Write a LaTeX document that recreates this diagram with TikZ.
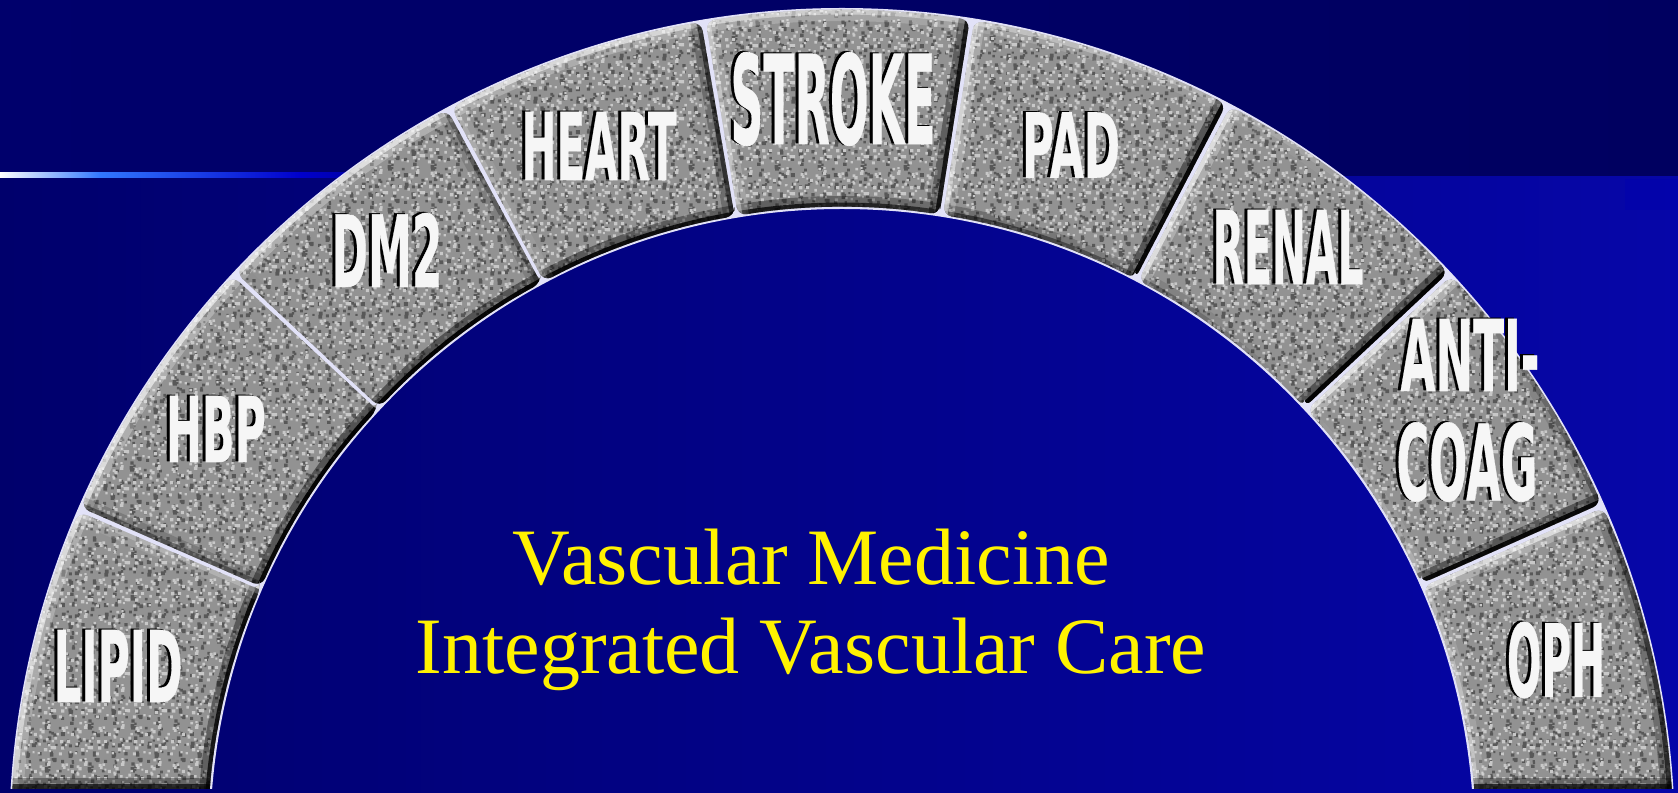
\documentclass[tikz,border=0pt]{standalone}
\usepackage{fontspec}
\usetikzlibrary{patterns}
\setmainfont{Liberation Serif}
\newfontfamily\lblfont[FakeBold=0.6]{DejaVu Sans Bold}
\definecolor{bgL}{RGB}{0,0,108}
\definecolor{bgR}{RGB}{6,6,168}
\definecolor{topL}{RGB}{0,0,108}
\definecolor{topR}{RGB}{0,0,96}
\definecolor{granite}{RGB}{146,146,146}
\definecolor{gdark}{RGB}{88,88,88}
\definecolor{glight}{RGB}{200,200,200}
\definecolor{gapcol}{RGB}{226,226,248}
\definecolor{streakB}{RGB}{50,120,255}
\definecolor{labelwhite}{RGB}{246,246,246}
\pgfmathsetseed{7}
\pgfdeclarepatternformonly{granD}{\pgfpointorigin}{\pgfpoint{4.3mm}{4.3mm}}{\pgfpoint{4.3mm}{4.3mm}}{%
  \foreach \i in {1,...,40}{\pgfmathsetmacro\px{4.0*rnd}\pgfmathsetmacro\py{4.0*rnd}\pgfmathsetmacro\ps{0.2+0.2*rnd}%
    \pgfpathrectangle{\pgfpoint{\px mm}{\py mm}}{\pgfpoint{\ps mm}{\ps mm}}}%
  \pgfusepath{fill}}
\pgfdeclarepatternformonly{granL}{\pgfpointorigin}{\pgfpoint{3.7mm}{3.7mm}}{\pgfpoint{3.7mm}{3.7mm}}{%
  \foreach \i in {1,...,30}{\pgfmathsetmacro\px{3.4*rnd}\pgfmathsetmacro\py{3.4*rnd}\pgfmathsetmacro\ps{0.2+0.15*rnd}%
    \pgfpathrectangle{\pgfpoint{\px mm}{\py mm}}{\pgfpoint{\ps mm}{\ps mm}}}%
  \pgfusepath{fill}}
\newcommand\bevel[2]{%
  \pgfmathsetmacro\bop{abs(#1)}%
  \ifdim #1pt>0pt \def\bcol{white}\def\bfac{0.6}\else\def\bcol{black}\def\bfac{0.95}\fi
  \pgfmathsetmacro\opA{\bop*\bfac*0.45}\pgfmathsetmacro\opB{\bop*\bfac}%
  \draw[\bcol, draw opacity=\opA, line width=2.2mm, line cap=butt] #2;
  \draw[\bcol, draw opacity=\opB, line width=0.9mm, line cap=butt] #2;}
\newcommand\blklbl[3]{\resizebox{\dimexpr0.1mm*#1\relax}{\dimexpr0.1mm*#2\relax}{\lblfont #3}}
\tikzset{
  lbl/.style={inner sep=0pt, text=labelwhite},
  lblshadow/.style={inner sep=0pt, text=black},
  title/.style={inner sep=0pt, anchor=base, text=yellow, font=\fontsize{8mm}{9mm}\selectfont}
}
\begin{document}
\begin{tikzpicture}[x=0.1mm,y=0.1mm]
\useasboundingbox (0,0) rectangle (1678,793);
% background
\shade[left color=bgL, right color=bgR] (0,0) rectangle (1678,793);
\shade[left color=topL, right color=topR] (0,617) rectangle (1678,793);
\shade[left color=white, right color=streakB] (0,615) rectangle (100,620);
\shade[left color=streakB, right color=blue!80!black] (100,615) rectangle (300,620);
\shade[left color=blue!80!black, right color=bgL] (300,615) rectangle (440,620);
\fill[blue!70!black, opacity=0.35] (1625,583) rectangle (1678,614);
\def\Ro{831}\def\Ri{634}
\begin{scope}[shift={(842,-48)}]
  \clip (-900,52) rectangle (900,900);
  \fill[gapcol] (0:833) arc[start angle=0,end angle=180,radius=833] -- (180:632) arc[start angle=180,end angle=0,radius=632] -- cycle;
  \foreach \aA/\aB in {0/23.8,23.8/43,43/62.3,62.3/81,81/99.6,99.6/118.2,118.2/137,137/156.5,156.5/180}{
    \pgfmathsetmacro\sa{\aA+0.16}
    \pgfmathsetmacro\sb{\aB-0.16}
    \begin{scope}
      \clip[rounded corners=0.9mm] (\sa:\Ri) -- (\sa:\Ro) arc[start angle=\sa,end angle=\sb,radius=\Ro] -- (\sb:\Ri) arc[start angle=\sb,end angle=\sa,radius=\Ri] -- cycle;
      \fill[granite] (-900,0) rectangle (900,900);
      \fill[pattern=granD, pattern color=gdark] (-900,0) rectangle (900,900);
      \fill[pattern=granL, pattern color=glight] (-900,0) rectangle (900,900);
      \pgfmathsetmacro\nseg{int(ceil((\sb-\sa)/2))}
      \foreach \j in {1,...,\nseg}{
        \pgfmathsetmacro\tA{\sa+(\j-1)*(\sb-\sa)/\nseg}
        \pgfmathsetmacro\tB{\sa+\j*(\sb-\sa)/\nseg}
        \pgfmathsetmacro\tm{(\tA+\tB)/2}
        \pgfmathsetmacro\cc{cos(\tm-135)}
        \bevel{\cc}{(\tA:\Ro) arc[start angle=\tA,end angle=\tB,radius=\Ro]}
        \pgfmathsetmacro\cc{cos(\tm+45)}
        \bevel{\cc}{(\tA:\Ri) arc[start angle=\tA,end angle=\tB,radius=\Ri]}
      }
      \pgfmathsetmacro\cc{cos(\aA-225)}
      \bevel{\cc}{(\sa:\Ri) -- (\sa:\Ro)}
      \pgfmathsetmacro\cc{cos(\aB-45)}
      \bevel{\cc}{(\sb:\Ri) -- (\sb:\Ro)}
      \bevel{-0.707}{(-900,52) -- (900,52)}
    \end{scope}
  }
\end{scope}
% labels
\node[lblshadow] (lipidS) at (115,128) {\blklbl{129}{72}{LIPID}};
\node[lbl] (lipid) at (118,127) {\blklbl{129}{72}{LIPID}};
\node[lblshadow] (hbpS) at (213,365) {\blklbl{100}{66}{HBP}};
\node[lbl] (hbp) at (216,364) {\blklbl{100}{66}{HBP}};
\node[lblshadow] (dmS) at (384,544) {\blklbl{111}{74}{DM2}};
\node[lbl] (dm) at (387,543) {\blklbl{111}{74}{DM2}};
\node[lblshadow] (heartS) at (596,648) {\blklbl{155}{68}{HEART}};
\node[lbl] (heart) at (599,647) {\blklbl{155}{68}{HEART}};
\node[lblshadow] (strokeS) at (830,695) {\blklbl{205}{92}{STROKE}};
\node[lbl] (stroke) at (833,694) {\blklbl{205}{92}{STROKE}};
\node[lblshadow] (padS) at (1068,649) {\blklbl{98}{65}{PAD}};
\node[lbl] (pad) at (1071,648) {\blklbl{98}{65}{PAD}};
\node[lblshadow] (renalS) at (1285,547) {\blklbl{151}{74}{RENAL}};
\node[lbl] (renal) at (1288,546) {\blklbl{151}{74}{RENAL}};
\node[lblshadow] (antiS) at (1467,439) {\blklbl{139}{72}{ANTI-}};
\node[lbl] (anti) at (1470,438) {\blklbl{139}{72}{ANTI-}};
\node[lblshadow] (coagS) at (1464,332) {\blklbl{141}{78}{COAG}};
\node[lbl] (coag) at (1467,331) {\blklbl{141}{78}{COAG}};
\node[lblshadow] (ophS) at (1553,134) {\blklbl{98}{75}{OPH}};
\node[lbl] (oph) at (1556,133) {\blklbl{98}{75}{OPH}};
% title
\node[title] (t1) at (811,208) {Vascular Medicine};
\node[title] (t2) at (811,119) {Integrated Vascular Care};
\end{tikzpicture}
\end{document}
